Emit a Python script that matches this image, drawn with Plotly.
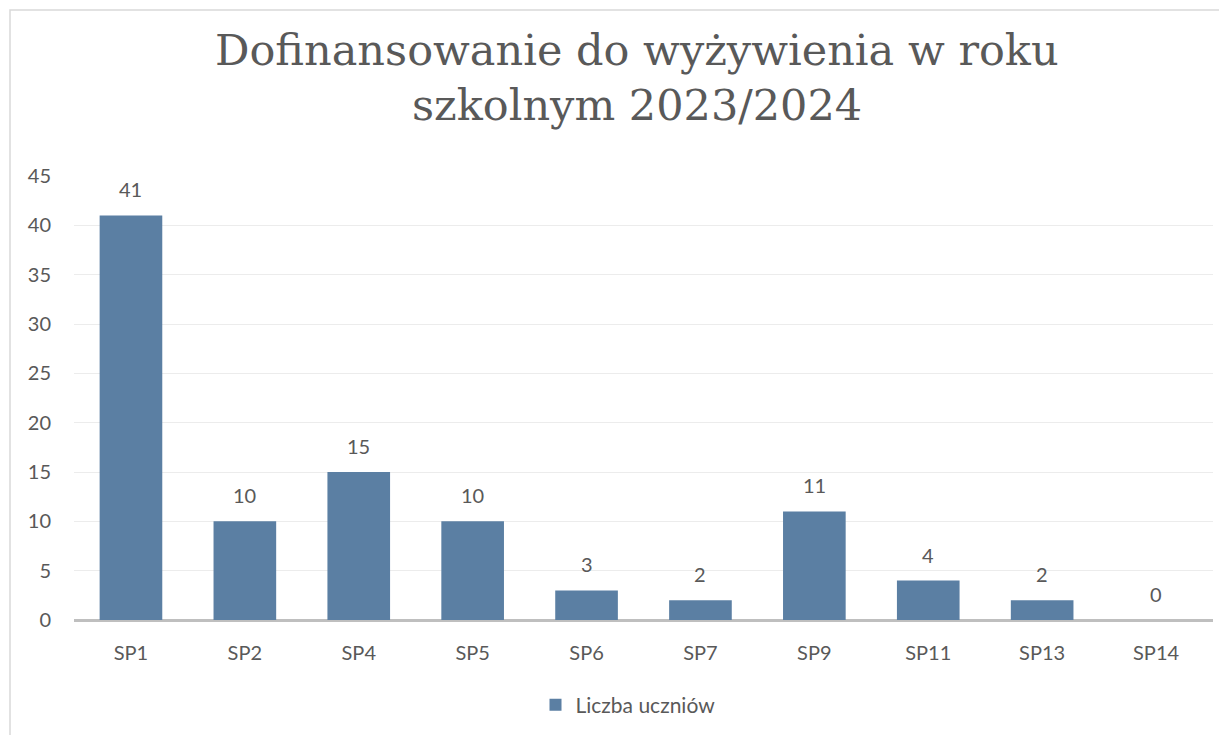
import plotly.graph_objects as go

categories = ["SP1", "SP2", "SP4", "SP5", "SP6", "SP7", "SP9", "SP11", "SP13", "SP14"]
values = [41, 10, 15, 10, 3, 2, 11, 4, 2, 0]
series_name = "Liczba uczniów"
title_lines = ["Dofinansowanie do wyżywienia w roku", "szkolnym 2023/2024"]
y_ticks = [0, 5, 10, 15, 20, 25, 30, 35, 40, 45]

OFF = 8  # page body margin
W, H = 1227, 735
L, T = 74 - OFF, 176 - OFF
R, B = W - (1213 - OFF), H - (620 - OFF)
pw, ph = W - L - R, H - T - B


def px(x):
    return (x - OFF - L) / pw


def py(y):
    return (620 - y) / ph


bar_color = "rgb(91,127,163)"
txt_color = "#595959"
font_body = "Lato, 'Open Sans', sans-serif"

fig = go.Figure()
fig.add_trace(go.Bar(
    x=categories, y=values, name=series_name,
    marker=dict(color=bar_color, line=dict(width=0)),
    width=0.55,
))

for c, v in zip(categories, values):
    fig.add_annotation(x=c, y=v, text=str(v), showarrow=False, yshift=26,
                       yanchor="middle", xanchor="center",
                       font=dict(size=20, color=txt_color, family=font_body))

fig.update_layout(
    width=W, height=H,
    margin=dict(l=L, r=R, t=T, b=B),
    paper_bgcolor="white", plot_bgcolor="white",
    showlegend=True,
    legend=dict(orientation="h", x=px(628), xanchor="center", y=py(705), yanchor="middle",
                font=dict(size=21, color=txt_color, family=font_body), itemwidth=30),
    xaxis=dict(showgrid=False, showline=False, ticks="", tickfont=dict(size=20, color=txt_color, family=font_body),
               ticklabelstandoff=19),
    yaxis=dict(range=[0, 45], tickvals=y_ticks, showgrid=True, gridcolor="#ececec", gridwidth=1,
               zeroline=True, zerolinecolor="#bfbfbf", zerolinewidth=2.5,
               tickfont=dict(size=20, color=txt_color, family=font_body), ticklabelstandoff=22),
    font=dict(family=font_body),
)

for line, yc in zip(title_lines, [50, 105]):
    fig.add_annotation(text=line, xref="paper", yref="paper",
                       x=px(637), y=py(yc), xanchor="center", yanchor="middle",
                       showarrow=False,
                       font=dict(size=43, color=txt_color, family="'DejaVu Serif', serif"))

fig.add_shape(type="rect", xref="paper", yref="paper",
              x0=px(10), y0=py(760), x1=px(1260), y1=py(10),
              line=dict(color="#d9d9d9", width=1.5), fillcolor="rgba(0,0,0,0)", layer="below")

fig.write_html("out.html")
